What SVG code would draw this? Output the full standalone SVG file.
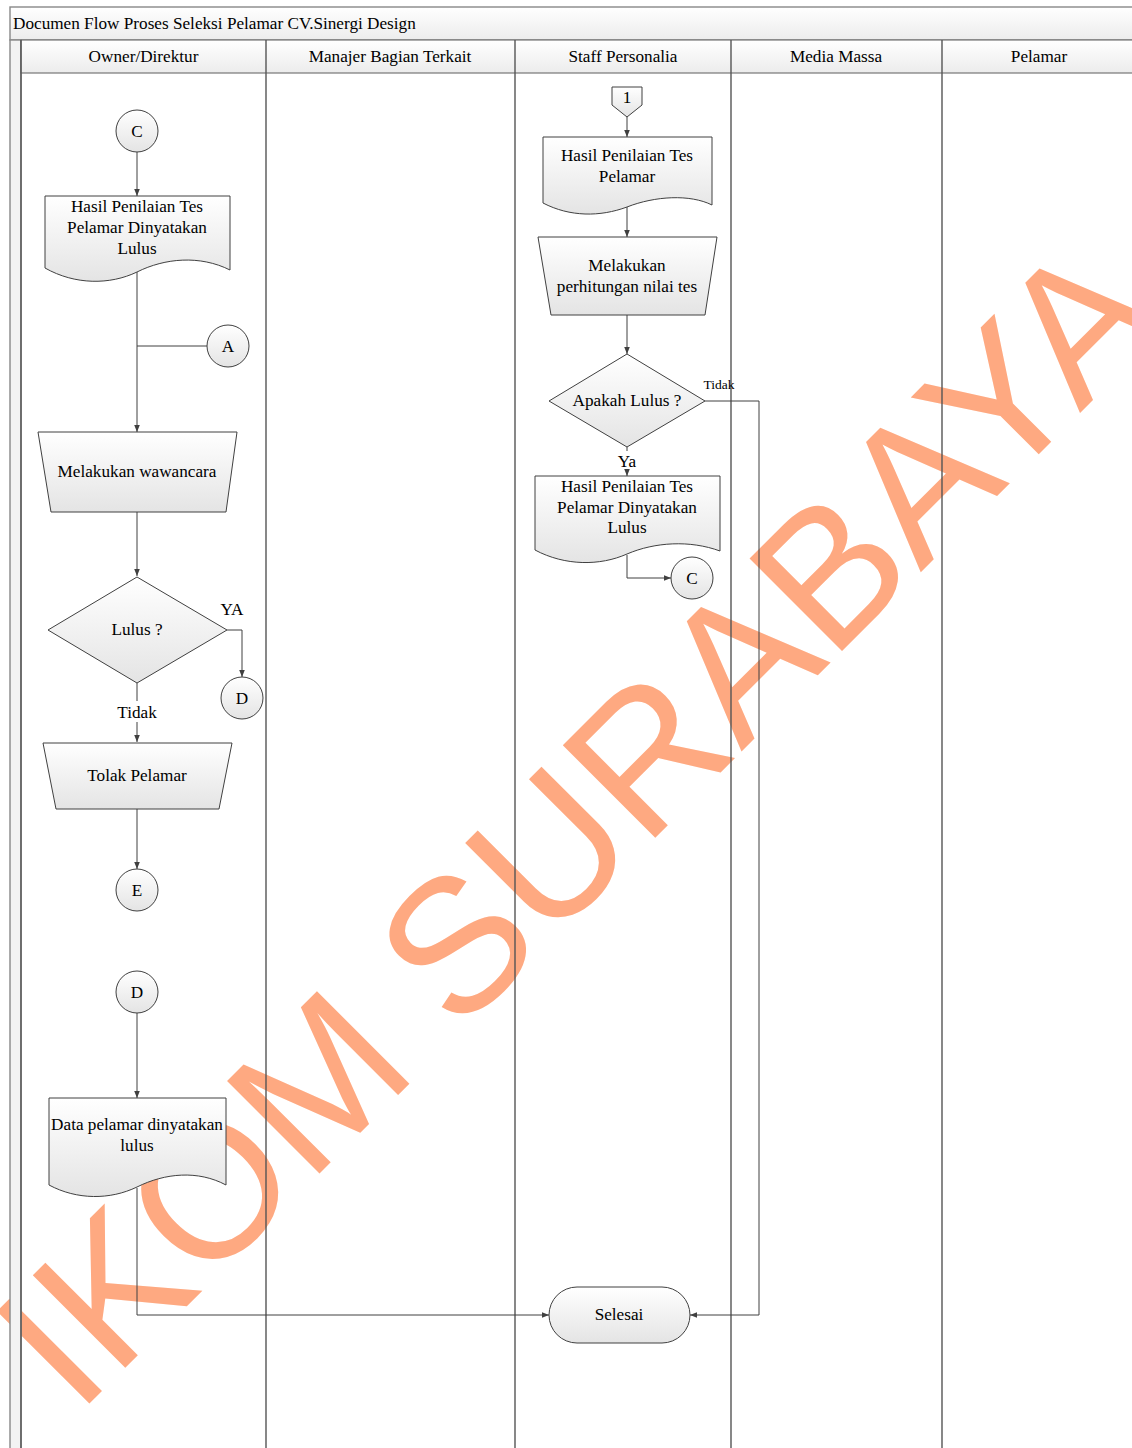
<svg xmlns="http://www.w3.org/2000/svg" width="1132" height="1448" viewBox="0 0 1132 1448">
<defs>
<linearGradient id="g" x1="0" y1="0" x2="0" y2="1"><stop offset="0" stop-color="#ffffff"/><stop offset="1" stop-color="#e4e4e4"/></linearGradient>
<linearGradient id="gh" x1="0" y1="0" x2="0" y2="1"><stop offset="0" stop-color="#ffffff"/><stop offset="1" stop-color="#ececec"/></linearGradient>
<marker id="arr" viewBox="0 0 10 10" refX="10" refY="5" markerWidth="7" markerHeight="7" orient="auto" markerUnits="userSpaceOnUse"><path d="M0,1 L10,5 L0,9 z" fill="#404040"/></marker>
<style>
.t{font-family:"Liberation Serif","Times New Roman",serif;font-size:17.2px;fill:#000;text-anchor:middle}
.s{fill:url(#g);stroke:#404040;stroke-width:1}
.c{fill:none;stroke:#404040;stroke-width:1}
.ca{fill:none;stroke:#404040;stroke-width:1;marker-end:url(#arr)}
.lane{stroke:#555;stroke-width:1.4;fill:none}
</style>
</defs>
<g id="watermark">
<text x="77" y="1416" transform="rotate(-45 77 1416)" font-family="Liberation Sans, Arial, sans-serif" font-size="190" fill="#FEA981">IKOM SURABAYA</text>
</g>
<g id="pool">
<rect x="10" y="7" width="1140" height="33" fill="url(#gh)" stroke="#888" stroke-width="1.4"/>
<text class="t" x="13" y="29" style="text-anchor:start">Documen Flow Proses Seleksi Pelamar CV.Sinergi Design</text>
<rect x="10" y="40" width="11" height="1420" fill="#f3f3f3" stroke="#888" stroke-width="1.4"/>
<rect x="21" y="40" width="1130" height="33" fill="url(#gh)" stroke="#777" stroke-width="1.2"/>
<line class="lane" x1="21" y1="40" x2="21" y2="1448"/>
<line class="lane" x1="266" y1="40" x2="266" y2="1448"/>
<line class="lane" x1="515" y1="40" x2="515" y2="1448"/>
<line class="lane" x1="731" y1="40" x2="731" y2="1448"/>
<line class="lane" x1="942" y1="40" x2="942" y2="1448"/>
<text class="t" x="143.5" y="62">Owner/Direktur</text>
<text class="t" x="390" y="62">Manajer Bagian Terkait</text>
<text class="t" x="623" y="62">Staff Personalia</text>
<text class="t" x="836" y="62">Media Massa</text>
<text class="t" x="1039" y="62">Pelamar</text>
</g>
<g id="connectors">
<line class="ca" x1="137" y1="152" x2="137" y2="196"/>
<line class="ca" x1="137" y1="272" x2="137" y2="432"/>
<line class="c" x1="137" y1="346" x2="207" y2="346"/>
<line class="ca" x1="137" y1="512" x2="137" y2="576"/>
<polyline class="ca" points="227,630 242,630 242,677"/>
<line class="c" x1="137" y1="683" x2="137" y2="701"/>
<line class="ca" x1="137" y1="722" x2="137" y2="742"/>
<line class="ca" x1="137" y1="809" x2="137" y2="869"/>
<line class="ca" x1="137" y1="1013" x2="137" y2="1098"/>
<polyline class="ca" points="137,1188 137,1315 549,1315"/>
<line class="ca" x1="627" y1="117" x2="627" y2="137"/>
<line class="ca" x1="627" y1="207" x2="627" y2="237"/>
<line class="ca" x1="627" y1="315" x2="627" y2="354"/>
<polyline class="ca" points="705,401 759,401 759,1315 690,1315"/>
<line class="c" x1="627" y1="447" x2="627" y2="451"/>
<line class="ca" x1="627" y1="470" x2="627" y2="476"/>
<polyline class="ca" points="627,555 627,578 671,578"/>
<text class="t" x="232" y="615">YA</text>
<text class="t" x="137" y="718">Tidak</text>
<text class="t" x="719" y="389" style="font-size:13.5px">Tidak</text>
<text class="t" x="627" y="467">Ya</text>
</g>
<g id="nC1"><circle class="s" cx="137" cy="131" r="21"/><text class="t" x="137" y="137">C</text></g>
<g id="nDoc1"><path class="s" d="M45,196 H230 V270 C200,255 165,258 137,272 C110,285 75,285 45,268 Z"/>
<text class="t" x="137" y="212">Hasil Penilaian Tes</text><text class="t" x="137" y="233">Pelamar Dinyatakan</text><text class="t" x="137" y="254">Lulus</text></g>
<g id="nA"><circle class="s" cx="228" cy="346" r="21"/><text class="t" x="228" y="352">A</text></g>
<g id="nWawancara"><path class="s" d="M38,432 H237 L226,512 H51 Z"/><text class="t" x="137" y="477">Melakukan wawancara</text></g>
<g id="nLulus"><path class="s" d="M137,577 L227,630 L137,683 L48,630 Z"/><text class="t" x="137" y="635">Lulus ?</text></g>
<g id="nD1"><circle class="s" cx="242" cy="698" r="21"/><text class="t" x="242" y="704">D</text></g>
<g id="nTolak"><path class="s" d="M43,743 H232 L219,809 H56 Z"/><text class="t" x="137" y="781">Tolak Pelamar</text></g>
<g id="nE"><circle class="s" cx="137" cy="890" r="21"/><text class="t" x="137" y="896">E</text></g>
<g id="nD2"><circle class="s" cx="137" cy="992" r="21"/><text class="t" x="137" y="998">D</text></g>
<g id="nDoc2"><path class="s" d="M49,1098 H226 V1185 C198,1170 165,1173 137,1187 C110,1200 77,1200 49,1185 Z"/>
<text class="t" x="137" y="1130">Data pelamar dinyatakan</text><text class="t" x="137" y="1151">lulus</text></g>
<g id="nSelesai"><rect class="s" x="549" y="1287" width="141" height="56" rx="28" ry="28"/><text class="t" x="619" y="1320">Selesai</text></g>
<g id="n1"><path class="s" d="M612,87 H642 V105 L627,117 L612,105 Z"/><text class="t" x="627" y="103">1</text></g>
<g id="nDoc3"><path class="s" d="M543,137 H712 V205 C690,194 655,196 627,207 C600,217 570,217 543,203 Z"/>
<text class="t" x="627" y="161">Hasil Penilaian Tes</text><text class="t" x="627" y="182">Pelamar</text></g>
<g id="nHitung"><path class="s" d="M538,237 H717 L705,315 H551 Z"/><text class="t" x="627" y="271">Melakukan</text><text class="t" x="627" y="292">perhitungan nilai tes</text></g>
<g id="nApakah"><path class="s" d="M627,354 L705,401 L627,447 L549,401 Z"/><text class="t" x="627" y="406">Apakah Lulus ?</text></g>
<g id="nDoc4"><path class="s" d="M535,476 H720 V551 C690,540 655,542 627,554 C600,566 565,566 535,550 Z"/>
<text class="t" x="627" y="492">Hasil Penilaian Tes</text><text class="t" x="627" y="513">Pelamar Dinyatakan</text><text class="t" x="627" y="533">Lulus</text></g>
<g id="nC2"><circle class="s" cx="692" cy="578" r="21"/><text class="t" x="692" y="584">C</text></g>
</svg>
